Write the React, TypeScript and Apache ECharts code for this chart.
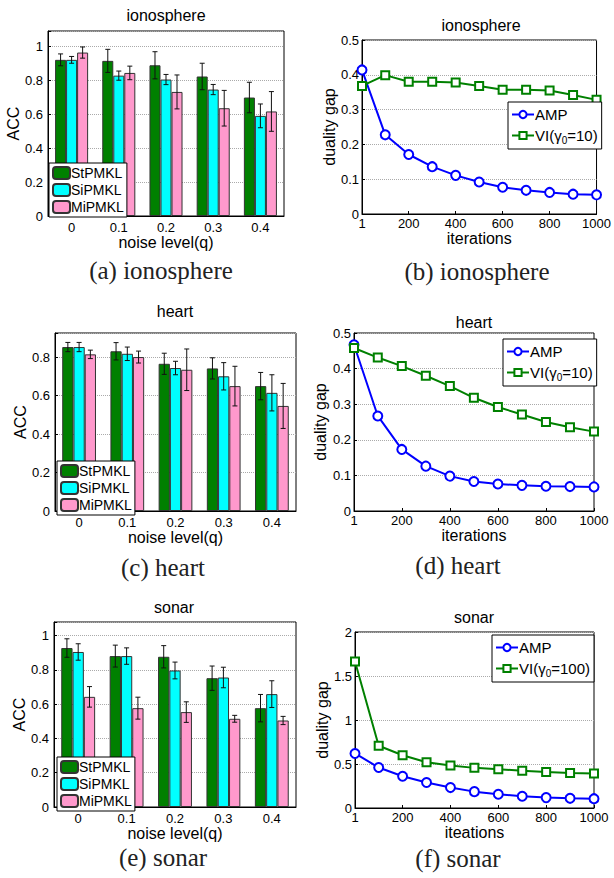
import React, { useEffect, useRef } from 'react';
import * as echarts from 'echarts';

// ---------- data ----------
const noiseLevels = ['0', '0.1', '0.2', '0.3', '0.4'];
const methods = ['StPMKL', 'SiPMKL', 'MiPMKL'];

const ionoSt = [0.92, 0.914, 0.888, 0.822, 0.698];
const ionoStErr = [0.035, 0.068, 0.08, 0.078, 0.09];
const ionoSi = [0.92, 0.827, 0.804, 0.745, 0.59];
const ionoSiErr = [0.02, 0.027, 0.03, 0.03, 0.07];
const ionoMi = [0.963, 0.843, 0.731, 0.635, 0.616];
const ionoMiErr = [0.033, 0.04, 0.1, 0.105, 0.117];

const heartSt = [0.852, 0.83, 0.765, 0.741, 0.649];
const heartStErr = [0.024, 0.045, 0.055, 0.055, 0.071];
const heartSi = [0.852, 0.817, 0.743, 0.7, 0.614];
const heartSiErr = [0.024, 0.035, 0.035, 0.071, 0.094];
const heartMi = [0.814, 0.8, 0.734, 0.649, 0.546];
const heartMiErr = [0.022, 0.031, 0.108, 0.103, 0.117];

const sonarSt = [0.928, 0.881, 0.877, 0.752, 0.577];
const sonarStErr = [0.054, 0.064, 0.065, 0.071, 0.08];
const sonarSi = [0.905, 0.881, 0.797, 0.756, 0.659];
const sonarSiErr = [0.048, 0.048, 0.049, 0.06, 0.078];
const sonarMi = [0.643, 0.577, 0.554, 0.515, 0.505];
const sonarMiErr = [0.06, 0.064, 0.06, 0.02, 0.024];

const iterations = [1, 100, 200, 300, 400, 500, 600, 700, 800, 900, 1000];
const iterTicks = [1, 200, 400, 600, 800, 1000];

const ionoAMP = [0.414, 0.2275, 0.171, 0.136, 0.111, 0.092, 0.077, 0.068, 0.062, 0.057, 0.055];
const ionoVI = [0.368, 0.399, 0.38, 0.38, 0.378, 0.368, 0.357, 0.357, 0.355, 0.342, 0.328];
const heartAMP = [0.467, 0.267, 0.173, 0.126, 0.098, 0.083, 0.076, 0.072, 0.0695, 0.0686, 0.0677];
const heartVI = [0.458, 0.431, 0.407, 0.38, 0.351, 0.318, 0.292, 0.271, 0.25, 0.235, 0.223];
const sonarAMP = [0.62, 0.46, 0.361, 0.289, 0.232, 0.186, 0.156, 0.133, 0.118, 0.11, 0.106];
const sonarVI = [1.665, 0.707, 0.6, 0.52, 0.483, 0.456, 0.441, 0.422, 0.41, 0.399, 0.392];

const titles = ['ionosphere', 'ionosphere', 'heart', 'heart', 'sonar', 'sonar'];
const captions = ['(a) ionosphere', '(b) ionosphere', '(c) heart', '(d) heart', '(e) sonar', '(f) sonar'];

// ---------- styling / layout ----------
const SANS = "'Liberation Sans', Arial, Helvetica, sans-serif";
const SERIF = "'Liberation Serif', 'Times New Roman', serif";
const barColors = ['#008000', '#00ffff', '#ff99cc'];
const BLUE = '#0000ff';
const GREEN = '#008000';

const gridRects = [
  { left: 48, top: 31, width: 236, height: 185 },
  { left: 362, top: 40, width: 240, height: 174 },
  { left: 55, top: 333, width: 241, height: 178 },
  { left: 354, top: 333, width: 240, height: 178 },
  { left: 54, top: 622, width: 242, height: 185 },
  { left: 355, top: 632, width: 239, height: 176 },
];
const titlePos = [[166, 15], [481, 25], [175, 311], [474, 322], [174, 607], [474, 617]];
const captionPos = [[161, 270], [477, 271], [163, 567], [458, 565], [163, 857], [458, 858]];

const stepFormatter = (step: number) => (v: number) => {
  const r = v / step;
  return Math.abs(r - Math.round(r)) < 1e-6 ? String(Math.round(v * 100) / 100) : '';
};

function makeErr(k: number) {
  return (params: any, api: any) => {
    const i = api.value(0);
    const m = api.value(1);
    const e = api.value(2);
    const p = api.coord([i, m]);
    const band = api.size([1, 0])[0];
    const bw = (band * 0.7) / 3;
    const x = p[0] + (k - 1) * bw;
    const yT = api.coord([i, m + e])[1];
    const yB = api.coord([i, m - e])[1];
    const cap = 2.5;
    const st = { stroke: '#111', lineWidth: 1 };
    return {
      type: 'group',
      children: [
        { type: 'line', shape: { x1: x, y1: yT, x2: x, y2: yB }, style: st },
        { type: 'line', shape: { x1: x - cap, y1: yT, x2: x + cap, y2: yT }, style: st },
        { type: 'line', shape: { x1: x - cap, y1: yB, x2: x + cap, y2: yB }, style: st },
      ],
    };
  };
}

function buildOption() {
  const grid = gridRects.map((g) => ({ ...g, show: true, borderColor: '#000', borderWidth: 1, backgroundColor: '#fff', containLabel: false }));
  const xAxis: any[] = [];
  const yAxis: any[] = [];
  const series: any[] = [];
  const legend: any[] = [];
  const graphic: any[] = [];

  const barPanels = [
    { g: 0, vals: [ionoSt, ionoSi, ionoMi], errs: [ionoStErr, ionoSiErr, ionoMiErr], max: 1.09, gap: 26, xGap: 14, legendPos: [49, 163] },
    { g: 2, vals: [heartSt, heartSi, heartMi], errs: [heartStErr, heartSiErr, heartMiErr], max: 0.925, gap: 23, xGap: 14, legendPos: [57, 461] },
    { g: 4, vals: [sonarSt, sonarSi, sonarMi], errs: [sonarStErr, sonarSiErr, sonarMiErr], max: 1.08, gap: 23, xGap: 15, legendPos: [57, 757] },
  ];
  const linePanels = [
    { g: 1, amp: ionoAMP, vi: ionoVI, viName: 'VI(γ0=10)', max: 0.5, step: 0.1, gap: 23, xName: 'iterations', legendPos: [508, 102] },
    { g: 3, amp: heartAMP, vi: heartVI, viName: 'VI(γ0=10)', max: 0.5, step: 0.1, gap: 26, xName: 'iterations', legendPos: [503, 339] },
    { g: 5, amp: sonarAMP, vi: sonarVI, viName: 'VI(γ0=100)', max: 2, step: 0.5, gap: 23, xName: 'iteations', legendPos: [492, 635] },
  ];

  const axisTextStyle = { color: '#000', fontFamily: SANS, fontSize: 13 };
  const nameStyle = { color: '#000', fontFamily: SANS, fontSize: 16 };

  for (let i = 0; i < 6; i++) {
    xAxis.push(null);
    yAxis.push(null);
  }

  barPanels.forEach((bp) => {
    xAxis[bp.g] = {
      type: 'category',
      gridIndex: bp.g,
      data: noiseLevels,
      boundaryGap: true,
      axisLine: { lineStyle: { color: '#000', width: 1 } },
      axisTick: { show: false },
      axisLabel: { ...axisTextStyle, margin: 5 },
      splitLine: { show: false },
      name: 'noise level(q)',
      nameLocation: 'middle',
      nameGap: bp.xGap,
      nameTextStyle: nameStyle,
    };
    yAxis[bp.g] = {
      type: 'value',
      gridIndex: bp.g,
      min: 0,
      max: bp.max,
      interval: 0.2,
      axisLine: { show: true, lineStyle: { color: '#000', width: 1 } },
      axisTick: { show: true, inside: true, length: 3, lineStyle: { color: '#000' } },
      axisLabel: { ...axisTextStyle, margin: 5, formatter: stepFormatter(0.2) },
      splitLine: { show: true, lineStyle: { type: 'dotted', color: '#aaa', width: 1 } },
      name: 'ACC',
      nameLocation: 'middle',
      nameGap: bp.gap,
      nameTextStyle: nameStyle,
    };
    methods.forEach((m, k) => {
      series.push({
        type: 'bar',
        name: m,
        xAxisIndex: bp.g,
        yAxisIndex: bp.g,
        data: bp.vals[k],
        barGap: '0%',
        barCategoryGap: '30%',
        itemStyle: { color: barColors[k], borderColor: '#333', borderWidth: 1 },
        emphasis: { disabled: true },
        z: 2,
      });
    });
    methods.forEach((m, k) => {
      series.push({
        type: 'custom',
        name: m + ' error',
        xAxisIndex: bp.g,
        yAxisIndex: bp.g,
        data: bp.vals[k].map((v, i) => [i, v, bp.errs[k][i]]),
        encode: { x: 0, y: 1 },
        renderItem: makeErr(k),
        z: 3,
        silent: true,
      });
    });
    legend.push({
      data: methods,
      orient: 'vertical',
      left: bp.legendPos[0],
      top: bp.legendPos[1],
      itemWidth: 17,
      itemHeight: 12,
      itemGap: 3,
      padding: [3, 3, 3, 3],
      borderColor: '#000',
      borderWidth: 1,
      borderRadius: 0,
      backgroundColor: '#fff',
      textStyle: { color: '#000', fontFamily: SANS, fontSize: 14, padding: [0, 0, 0, -4] },
      selectedMode: false,
      z: 10,
    });
  });

  linePanels.forEach((lp) => {
    xAxis[lp.g] = {
      type: 'value',
      gridIndex: lp.g,
      min: 1,
      max: 1000,
      axisLine: { lineStyle: { color: '#000', width: 1 } },
      axisTick: { show: true, inside: true, length: 3, lineStyle: { color: '#000' }, customValues: iterTicks },
      axisLabel: { ...axisTextStyle, margin: 3, customValues: iterTicks, showMinLabel: true, showMaxLabel: true, formatter: (v: number) => String(v) },
      splitLine: { show: false },
      name: lp.xName,
      nameLocation: 'middle',
      nameGap: 16,
      nameTextStyle: nameStyle,
    };
    yAxis[lp.g] = {
      type: 'value',
      gridIndex: lp.g,
      min: 0,
      max: lp.max,
      interval: lp.step,
      axisLine: { show: true, lineStyle: { color: '#000', width: 1 } },
      axisTick: { show: true, inside: true, length: 3, lineStyle: { color: '#000' } },
      axisLabel: { ...axisTextStyle, margin: 3 },
      splitLine: { show: true, lineStyle: { type: 'dotted', color: '#aaa', width: 1 } },
      name: 'duality gap',
      nameLocation: 'middle',
      nameGap: lp.gap,
      nameTextStyle: nameStyle,
    };
    series.push({
      type: 'line',
      name: 'AMP',
      xAxisIndex: lp.g,
      yAxisIndex: lp.g,
      data: iterations.map((x, i) => [x, lp.amp[i]]),
      symbol: 'emptyCircle',
      symbolSize: 9,
      lineStyle: { color: BLUE, width: 2 },
      itemStyle: { color: BLUE, borderWidth: 1.6 },
      emphasis: { disabled: true },
      z: 3,
    });
    series.push({
      type: 'line',
      name: lp.viName,
      xAxisIndex: lp.g,
      yAxisIndex: lp.g,
      data: iterations.map((x, i) => [x, lp.vi[i]]),
      symbol: 'emptyRect',
      symbolSize: 8,
      lineStyle: { color: GREEN, width: 2 },
      itemStyle: { color: GREEN, borderWidth: 1.4 },
      emphasis: { disabled: true },
      z: 3,
    });
    legend.push({
      data: ['AMP', lp.viName],
      orient: 'vertical',
      left: lp.legendPos[0],
      top: lp.legendPos[1],
      itemWidth: 22,
      itemHeight: 9,
      itemGap: 6,
      padding: [5, 4, 4, 3],
      borderColor: '#000',
      borderWidth: 1,
      borderRadius: 0,
      backgroundColor: '#fff',
      formatter: (name: string) => name.replace('γ0', 'γ{s|0}'),
      textStyle: {
        color: '#000',
        fontFamily: SANS,
        fontSize: 15,
        padding: [0, 0, 0, -4],
        rich: { s: { fontFamily: SANS, fontSize: 10, color: '#000', padding: [9, 0, 0, 0] } },
      },
      selectedMode: false,
      z: 10,
    });
  });

  titles.forEach((t, i) => {
    graphic.push({
      type: 'text',
      x: titlePos[i][0],
      y: titlePos[i][1],
      style: {
        text: t,
        font: `16px ${SANS}`,
        fill: '#000',
        textAlign: 'center',
        textVerticalAlign: 'middle',
        align: 'center',
        verticalAlign: 'middle',
      },
    });
  });
  captions.forEach((t, i) => {
    graphic.push({
      type: 'text',
      x: captionPos[i][0],
      y: captionPos[i][1],
      style: {
        text: t,
        font: `25px ${SERIF}`,
        fill: '#222',
        textAlign: 'center',
        textVerticalAlign: 'middle',
        align: 'center',
        verticalAlign: 'middle',
      },
    });
  });

  return {
    animation: false,
    backgroundColor: '#fff',
    grid,
    xAxis,
    yAxis,
    legend,
    series,
    graphic,
  };
}

export default function App() {
  const ref = useRef<HTMLDivElement>(null);
  useEffect(() => {
    if (!ref.current) return;
    const chart = echarts.init(ref.current, undefined, { renderer: 'svg' });
    chart.setOption(buildOption() as any);
    return () => chart.dispose();
  }, []);
  return <div ref={ref} style={{ position: 'absolute', left: 0, top: 0, width: 614, height: 878 }} />;
}
